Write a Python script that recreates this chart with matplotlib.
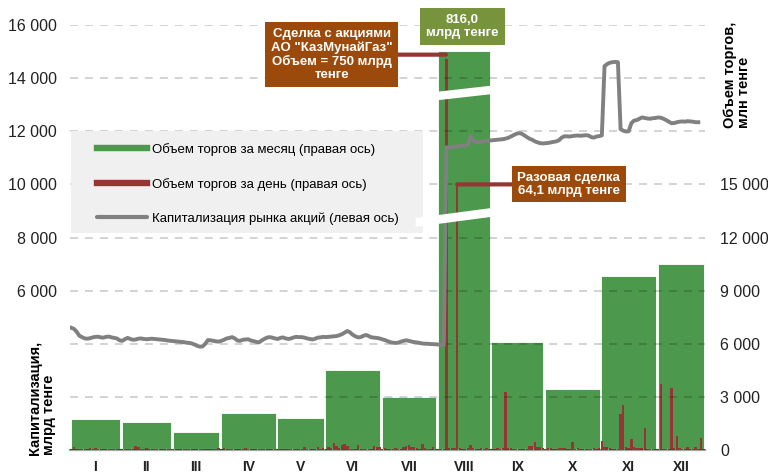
import numpy as np
import matplotlib.pyplot as plt
from matplotlib.lines import Line2D
from matplotlib.patches import Polygon, Rectangle
from matplotlib.ticker import FuncFormatter

plt.rcParams['font.family'] = ['Liberation Sans', 'DejaVu Sans']

# Месяцы и число торговых дней
months = ["I", "II", "III", "IV", "V", "VI", "VII", "VIII", "IX", "X", "XI", "XII"]
days_in_month = [19, 19, 18, 21, 18, 21, 21, 20, 20, 21, 21, 18]

# Объем торгов за месяц, млн тенге (правая ось)
month_volume = [1750, 1590, 1020, 2100, 1810, 4530, 3000, 816000, 6110, 3450, 9850, 10530]

# Объем торгов за день, млн тенге (правая ось)
vol_jan = [60, 180, 40, 50, 70, 60, 50, 110, 40, 90, 40, 30, 60, 40, 30, 50, 70, 40, 30]
vol_feb = [40, 30, 50, 40, 60, 200, 180, 60, 40, 90, 50, 40, 60, 40, 30, 50, 80, 40, 70]
vol_mar = [70, 40, 50, 40, 60, 30, 40, 50, 40, 30, 40, 40, 60, 40, 50, 70, 40, 110]
vol_apr = [60, 120, 50, 40, 60, 40, 80, 70, 50, 140, 60, 40, 50, 40, 60, 40, 50, 40, 60, 80, 40]
vol_may = [50, 40, 60, 40, 50, 70, 40, 60, 50, 40, 170, 60, 40, 50, 80, 150, 60, 90]
vol_jun = [80, 150, 110, 400, 220, 120, 300, 340, 230, 70, 60, 60, 280, 80, 60, 50, 70, 60, 200, 190, 150]
vol_jul = [60, 120, 50, 40, 60, 120, 50, 60, 170, 230, 280, 170, 150, 130, 60, 340, 110, 60, 50, 160, 60]
vol_aug = [70, 60, 80, 750000, 90, 100, 110, 64100, 100, 80, 60, 90, 280, 120, 80, 60, 90, 70, 110, 60]
vol_sep = [80, 60, 90, 70, 100, 3280, 90, 110, 70, 60, 80, 70, 60, 80, 200, 250, 450, 180, 150, 120]
vol_oct = [80, 120, 110, 60, 80, 100, 120, 90, 80, 70, 450, 60, 90, 50, 60, 80, 70, 60, 90, 70, 110]
vol_nov = [510, 170, 180, 90, 80, 60, 70, 2040, 2550, 150, 100, 620, 180, 140, 90, 110, 1250, 60, 70, 50, 60]
vol_dec = [80, 3740, 60, 70, 80, 3510, 120, 790, 90, 70, 60, 150, 60, 50, 150, 60, 680, 40]

# Капитализация рынка акций, млрд тенге (левая ось)
cap_jan = [4600, 4560, 4450, 4300, 4250, 4200, 4190, 4210, 4240, 4260, 4265, 4240, 4230, 4260, 4270, 4240, 4220, 4200, 4130]
cap_feb = [4110, 4170, 4220, 4180, 4150, 4160, 4190, 4200, 4180, 4170, 4180, 4190, 4180, 4170, 4160, 4150, 4140, 4120, 4110]
cap_mar = [4100, 4090, 4080, 4070, 4060, 4040, 4030, 4010, 3970, 3920, 3890, 3900, 4000, 4140, 4130, 4110, 4090, 4080]
cap_apr = [4110, 4150, 4200, 4220, 4250, 4200, 4120, 4110, 4150, 4160, 4170, 4120, 4100, 4070, 4050, 4120, 4180, 4230, 4250, 4230, 4200]
cap_may = [4180, 4220, 4240, 4200, 4180, 4200, 4240, 4260, 4250, 4250, 4230, 4200, 4180, 4160, 4190, 4230, 4240, 4260]
cap_jun = [4250, 4260, 4270, 4280, 4290, 4320, 4360, 4420, 4480, 4430, 4340, 4280, 4240, 4250, 4300, 4330, 4290, 4240, 4230, 4220, 4200]
cap_jul = [4170, 4140, 4100, 4060, 4040, 4030, 4040, 4080, 4110, 4130, 4110, 4080, 4060, 4050, 4030, 4010, 4000, 4000, 3990, 3985, 3980]
cap_aug = [3970, 3960, 3950, 11400, 11390, 11400, 11420, 11430, 11440, 11450, 11460, 11480, 11810, 11650, 11600, 11590, 11600, 11620, 11640, 11650]
cap_sep = [11660, 11670, 11680, 11690, 11700, 11720, 11750, 11800, 11850, 11900, 11930, 11910, 11850, 11780, 11720, 11680, 11620, 11580, 11550, 11540]
cap_oct = [11550, 11560, 11580, 11600, 11620, 11660, 11760, 11810, 11810, 11800, 11820, 11830, 11840, 11830, 11840, 11850, 11840, 11780, 11760, 11800, 11820]
cap_nov = [11840, 14450, 14530, 14580, 14600, 14610, 14600, 12080, 12020, 11990, 12000, 12300, 12400, 12420, 12470, 12520, 12500, 12480, 12470, 12490, 12500]
cap_dec = [12520, 12510, 12470, 12420, 12360, 12300, 12310, 12340, 12360, 12370, 12360, 12380, 12370, 12360, 12340, 12340]

daily_volume = np.array(vol_jan + vol_feb + vol_mar + vol_apr + vol_may + vol_jun
                        + vol_jul + vol_aug + vol_sep + vol_oct + vol_nov + vol_dec, dtype=float)
capitalization = np.array(cap_jan + cap_feb + cap_mar + cap_apr + cap_may + cap_jun
                          + cap_jul + cap_aug + cap_sep + cap_oct + cap_nov + cap_dec, dtype=float)

GREEN = "#4C984C"
RED = "#963634"
GREY = "#808080"
BROWN = "#9C4A0B"
OLIVE = "#77933C"
TXT = "#222222"

# Разрыв правой оси: выше ~13 400 млн шкала сжата
break_real = [0, 13400, 64100, 478000, 816000]
break_shown = [0, 13400, 15000, 20200, 22530]


def shown(v):
    return np.interp(v, break_real, break_shown)


def thousands(v, pos):
    return f"{int(v):,}".replace(",", " ")


def thousands_left(v, pos):
    # нижние подписи левой оси закрыты названием оси
    return thousands(v, pos) if v >= 6000 else ""


starts = np.concatenate([[0], np.cumsum(days_in_month)[:-1]])
centers = starts + np.array(days_in_month) / 2
n_days = int(sum(days_in_month))

fig = plt.figure(figsize=(7.68, 4.75), dpi=100)
ax = fig.add_axes([70 / 768, 25 / 475, 635 / 768, 425 / 475])
ax2 = ax.twinx()

# Столбики (правая ось) на нижней оси
ax.bar(starts + 0.3, shown(month_volume), width=np.array(days_in_month) - 0.6, align="edge",
       color=GREEN, edgecolor="white", linewidth=0.6, zorder=2)
ax.bar(np.arange(n_days) + 0.05, shown(daily_volume), width=0.9, align="edge",
       color=RED, linewidth=0, zorder=3)
ax.set_xlim(0, n_days)
ax.set_ylim(0, 24000)

# Капитализация (левая ось)
ax2.plot(np.arange(len(capitalization)) + 0.5, capitalization, color=GREY, lw=2.8,
         solid_joinstyle="round", zorder=3)
ax2.set_ylim(0, 16000)

# Оси
ax.yaxis.tick_right()
ax2.yaxis.tick_left()
ax.set_yticks(range(0, 15001, 3000))
ax2.set_yticks(range(0, 16001, 2000))
ax.yaxis.set_major_formatter(FuncFormatter(thousands))
ax2.yaxis.set_major_formatter(FuncFormatter(thousands_left))
ax.tick_params(axis="y", length=0, pad=11, labelsize=11.5, labelcolor=TXT)
ax2.tick_params(axis="y", length=0, pad=9.5, labelsize=11.5, labelcolor=TXT)
ax.set_xticks(centers, months)
ax.tick_params(axis="x", length=0, pad=7.5, labelsize=10, labelcolor=TXT)
for lbl in ax.get_xticklabels():
    lbl.set_fontweight("bold")

ax2.grid(axis="y", color="black", alpha=0.22, lw=1.1, linestyle=(0, (5.2, 4.6)))
for a in (ax, ax2):
    for s in a.spines.values():
        s.set_visible(False)
ax.spines["bottom"].set_visible(True)
ax.spines["bottom"].set_color("#A6A6A6")
ax.spines["bottom"].set_linewidth(1.6)

# Легенда
ax2.add_patch(Rectangle((71 / 768, 1 - 233 / 475), 352 / 768, 102 / 475, transform=fig.transFigure,
                        facecolor="#F0F0F0", edgecolor="none", zorder=4.5, clip_on=False))
handles = [
    Line2D([], [], color=GREEN, lw=4.6),
    Line2D([], [], color=RED, lw=4.6),
    Line2D([], [], color=GREY, lw=3, solid_capstyle="round"),
]
labels = [
    "Объем торгов за месяц (правая ось)",
    "Объем торгов за день (правая ось)",
    "Капитализация рынка акций (левая ось)",
]
leg = ax2.legend(handles, labels, loc="upper left", bbox_to_anchor=(97 / 768, 1 - 143 / 475),
                 bbox_transform=fig.transFigure, frameon=False, borderpad=0, borderaxespad=0,
                 handlelength=3.8, handletextpad=0.4, labelspacing=1.65, fontsize=9.5)
leg.set_zorder(5)

# Белые полосы разрыва оси на столбике августа
aug = months.index("VIII")
a0, a1 = starts[aug], starts[aug] + days_in_month[aug]


def break_band(xa, xb, y_left, y_right, t):
    poly = Polygon([(xa, y_left - t / 2), (xb, y_right - t / 2), (xb, y_right + t / 2), (xa, y_left + t / 2)],
                   closed=True, transform=ax.transData, facecolor="white", edgecolor="none",
                   zorder=6, clip_on=False)
    ax2.add_patch(poly)


break_band(a0, a1, 19990, 20330, 480)
break_band(a0 - 8, a1, 12850, 13410, 500)

# Подписи крупных сделок
deal_days = np.argsort(daily_volume)[::-1][:2]
big, once = deal_days
box_font = dict(color="white", fontweight="bold", fontsize=9.5, ha="center", va="center", zorder=7)

ax2.annotate(f"Сделка с акциями\nАО \"КазМунайГаз\"\nОбъем = {daily_volume[big] / 1000:.0f} млрд\nтенге",
             xy=(big + 0.3, shown(daily_volume[big]) + 250), xycoords=ax.transData,
             xytext=(97.6, shown(daily_volume[big]) + 250), textcoords=ax.transData, linespacing=1.12,
             bbox=dict(boxstyle="square,pad=0.45", fc=BROWN, ec="none"),
             arrowprops=dict(arrowstyle="-", color=RED, lw=3, shrinkA=0, shrinkB=0),
             annotation_clip=False, **box_font)

ax2.annotate(f"Разовая сделка\n{daily_volume[once] / 1000:.1f}".replace(".", ",") + " млрд тенге",
             xy=(once + 0.5, shown(daily_volume[once])), xycoords=ax.transData,
             xytext=(186.2, shown(daily_volume[once])), textcoords=ax.transData, linespacing=1.12,
             bbox=dict(boxstyle="square,pad=0.42", fc=BROWN, ec="none"),
             arrowprops=dict(arrowstyle="-", color=RED, lw=3, shrinkA=0, shrinkB=0),
             annotation_clip=False, **box_font)

ax2.text(centers[aug] - 0.5, 23890, f"{month_volume[aug] / 1000:.1f}".replace(".", ",") + "\nмлрд тенге",
         transform=ax.transData, linespacing=1.12,
         bbox=dict(boxstyle="square,pad=0.45", fc=OLIVE, ec="none"), clip_on=False, **box_font)

# Подписи осей
fig.text(42 / 768, 1 - 455 / 475, "Капитализация,\nмлрд тенге", rotation=90, ha="center", va="bottom",
         multialignment="left", fontsize=10.5, fontweight="bold", color="black", linespacing=1.05)
fig.text(737 / 768, 1 - 128 / 475, "Объем торгов,\nмлн тенге", rotation=90, ha="center", va="bottom",
         multialignment="left", fontsize=10.5, fontweight="bold", color="black", linespacing=1.05)

fig.savefig("out.png", dpi=100, facecolor="white")
